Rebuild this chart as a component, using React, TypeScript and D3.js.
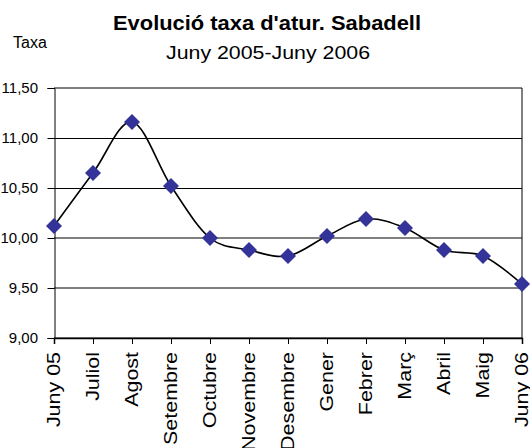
import React, { useRef, useEffect } from "react"
import * as d3 from "d3"

const months = ["Juny 05", "Juliol", "Agost", "Setembre", "Octubre", "Novembre", "Desembre", "Gener", "Febrer", "Març", "Abril", "Maig", "Juny 06"]
const taxa = [10.12, 10.65, 11.16, 10.52, 10.0, 9.88, 9.82, 10.02, 10.19, 10.1, 9.88, 9.82, 9.54]
const yTicks = [9.0, 9.5, 10.0, 10.5, 11.0, 11.5]
// lines that come out crisp in the original (others look blurred grey)
const crispTicks = [10.5, 11.0]

const FONT = "'Liberation Sans', Arial, sans-serif"

function App() {
  const ref = useRef<SVGSVGElement>(null)

  useEffect(() => {
    const svg = d3.select(ref.current)
    svg.selectAll("*").remove()

    const left = 54, right = 522, top = 88, bottom = 338
    const x = d3.scalePoint().domain(months).range([left, right])
    const y = d3.scaleLinear().domain([9, 11.5]).range([bottom, top])

    // titles
    svg.append("text").attr("x", 113).attr("y", 30)
      .attr("font-family", FONT).attr("font-weight", "bold").attr("font-size", 19.5)
      .attr("textLength", 308).attr("lengthAdjust", "spacingAndGlyphs")
      .text("Evolució taxa d'atur. Sabadell")
    svg.append("text").attr("x", 166).attr("y", 59)
      .attr("font-family", FONT).attr("font-size", 19)
      .attr("textLength", 204).attr("lengthAdjust", "spacingAndGlyphs")
      .text("Juny 2005-Juny 2006")
    svg.append("text").attr("x", 13).attr("y", 48)
      .attr("font-family", FONT).attr("font-size", 16)
      .text("Taxa")

    // grid
    svg.append("g").selectAll("line").data(yTicks).enter().append("line")
      .attr("x1", left).attr("x2", right)
      .attr("y1", d => crispTicks.includes(d) ? y(d) + 0.5 : y(d))
      .attr("y2", d => crispTicks.includes(d) ? y(d) + 0.5 : y(d))
      .attr("stroke", "#000").attr("stroke-width", 1)

    // right border
    svg.append("line").attr("x1", right).attr("x2", right).attr("y1", top).attr("y2", bottom)
      .attr("stroke", "#000").attr("stroke-width", 1)

    // y axis
    const yAxis = d3.axisLeft(y).tickValues(yTicks).tickSize(7)
      .tickFormat(d => d3.format(".2f")(d as number).replace(".", ","))
    const gy = svg.append("g").attr("transform", `translate(${left + 0.5},0)`).call(yAxis)
    gy.select(".domain").attr("stroke", "#000")
    gy.selectAll("text")
      .attr("x", -16.5)
      .attr("font-family", FONT).attr("font-size", 15).attr("fill", "#000")

    // x axis
    const xAxis = d3.axisBottom(x).tickSize(6).tickFormat(() => "")
    const gx = svg.append("g").attr("transform", `translate(0,${bottom})`).call(xAxis)
    gx.select(".domain").attr("stroke", "#000").attr("stroke-width", 1.5)

    svg.append("g").selectAll("text").data(months).enter().append("text")
      .attr("transform", d => `translate(${(x(d) as number) + 6},352) rotate(-90) scale(1.16,1)`)
      .attr("text-anchor", "end")
      .attr("font-family", FONT).attr("font-size", 18.5)
      .text(d => d)

    // smoothed line
    const line = d3.line<number>()
      .x((_, i) => x(months[i]) as number)
      .y(d => y(d))
      .curve(d3.curveCatmullRom.alpha(0))
    svg.append("path").datum(taxa).attr("d", line)
      .attr("fill", "none").attr("stroke", "#000").attr("stroke-width", 1.6)

    // diamond markers
    const r = 8
    svg.append("g").selectAll("path").data(taxa).enter().append("path")
      .attr("transform", (d, i) => `translate(${x(months[i])},${y(d)})`)
      .attr("d", `M0,${-r}L${r},0L0,${r}L${-r},0Z`)
      .attr("fill", "#333399")
  }, [])

  return (
    <svg ref={ref} width={530} height={448}
      style={{ position: "absolute", left: 0, top: 0, background: "#fff" }} />
  )
}

export default App
